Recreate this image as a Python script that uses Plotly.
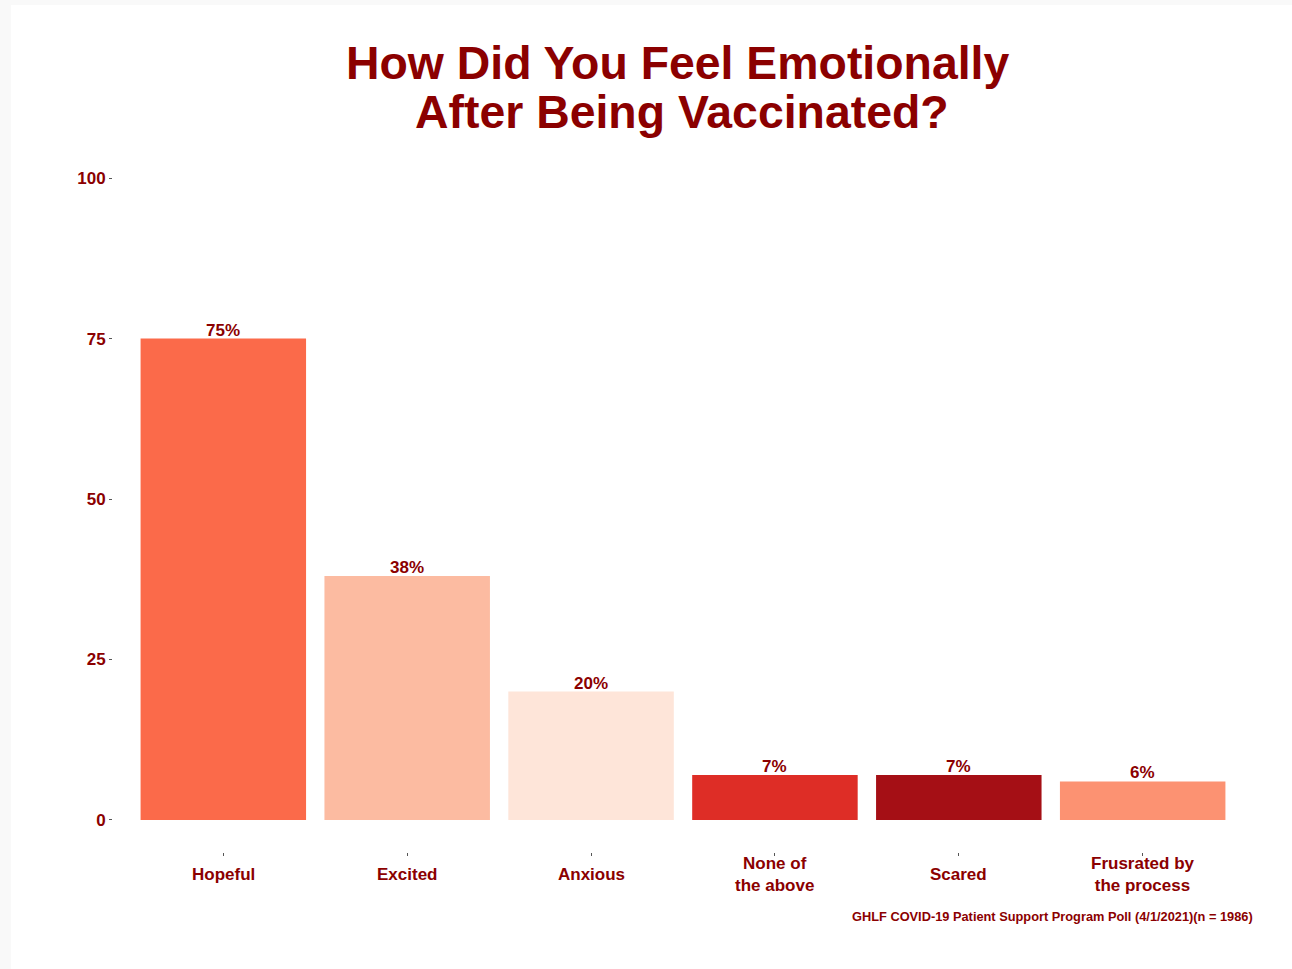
import plotly.graph_objects as go

categories = ["Hopeful", "Excited", "Anxious", "None of<br>the above", "Scared", "Frusrated by<br>the process"]
values = [75, 38, 20, 7, 7, 6]
bar_colors = ["#fb6a4a", "#fcbba1", "#fee5d9", "#de2d26", "#a50f15", "#fc9272"]
y_ticks = [0, 25, 50, 75, 100]
title_lines = ["How Did You Feel Emotionally", "After Being Vaccinated?"]
caption = "GHLF COVID-19 Patient Support Program Poll (4/1/2021)(n = 1986)"

RED = "#8b0000"
FONT = "Liberation Sans"

fig = go.Figure(
    go.Bar(
        x=categories,
        y=values,
        marker=dict(color=bar_colors, line=dict(width=0)),
        width=0.9,
        showlegend=False,
        hovertemplate="%{y}%<extra></extra>",
    )
)

W, H = 1292, 969
L, R, T, B = 113, 39, 146, 117
pw, ph = W - L - R, H - T - B


def px_x(p):
    return (p - L) / pw


def px_y(p):
    return (H - B - p) / ph


annotations = [
    dict(text=title_lines[0], xref="paper", yref="paper", x=px_x(677), y=px_y(63),
         xanchor="center", yanchor="middle", showarrow=False,
         font=dict(family=FONT, size=46.4, color=RED, weight="bold")),
    dict(text=title_lines[1], xref="paper", yref="paper", x=px_x(682), y=px_y(112),
         xanchor="center", yanchor="middle", showarrow=False,
         font=dict(family=FONT, size=46.4, color=RED, weight="bold")),
    dict(text=caption, xref="paper", yref="paper", x=px_x(1255), y=px_y(916),
         xanchor="right", yanchor="middle", showarrow=False,
         font=dict(family=FONT, size=12.8, color=RED, weight="bold")),
]
# value labels just above each bar
for cat, val in zip(categories, values):
    annotations.append(
        dict(text=f"{val}%", xref="x", yref="y", x=cat, y=val,
             xanchor="center", yanchor="bottom", yshift=-3, showarrow=False,
             font=dict(family=FONT, size=17, color=RED, weight="bold"))
    )
# category labels centred vertically under each tick (as in the reference)
for cat in categories:
    annotations.append(
        dict(text=cat, xref="x", yref="paper", x=cat, y=px_y(874),
             xanchor="center", yanchor="middle", showarrow=False,
             font=dict(family=FONT, size=17, color=RED, weight="bold"))
    )

fig.update_layout(
    width=W,
    height=H,
    margin=dict(l=L, r=R, t=T, b=B),
    paper_bgcolor="#f9f9f9",
    plot_bgcolor="rgba(0,0,0,0)",
    font=dict(family=FONT, color=RED),
    xaxis=dict(
        range=[-0.6, 5.6],
        showgrid=False,
        showline=False,
        zeroline=False,
        ticks="outside",
        ticklen=3,
        tickcolor="#555555",
        tickwidth=1,
        showticklabels=False,
    ),
    yaxis=dict(
        range=[-5, 105],
        tickvals=y_ticks,
        showgrid=False,
        showline=False,
        zeroline=False,
        ticks="outside",
        ticklen=3,
        tickcolor="#555555",
        tickwidth=1,
        tickfont=dict(family=FONT, size=17, color=RED, weight="bold"),
        ticklabelstandoff=0,
    ),
    shapes=[
        dict(
            type="rect", xref="paper", yref="paper",
            x0=px_x(11), x1=px_x(W + 5), y0=px_y(H + 5), y1=px_y(5),
            fillcolor="white", line=dict(width=0), layer="below",
        )
    ],
    annotations=annotations,
    bargap=0.1,
)

fig.write_html("out.html")
